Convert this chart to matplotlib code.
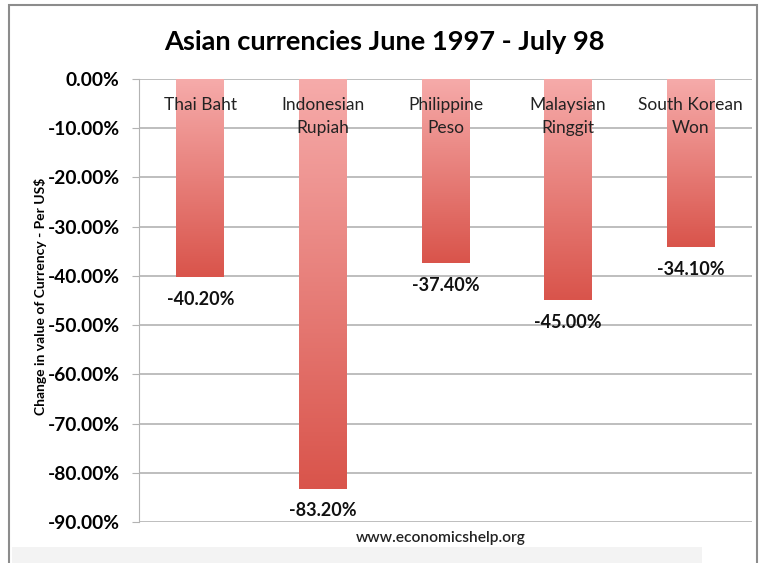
import matplotlib
matplotlib.use("Agg")
import matplotlib.pyplot as plt
import numpy as np
from matplotlib.colors import LinearSegmentedColormap
from matplotlib.patches import Rectangle

# data
currencies = ["Thai Baht", "Indonesian\nRupiah", "Philippine\nPeso",
              "Malaysian\nRinggit", "South Korean\nWon"]
changes = [-40.2, -83.2, -37.4, -45.0, -34.1]
y_ticks = [0, -10, -20, -30, -40, -50, -60, -70, -80, -90]

plt.rcParams["font.family"] = ["Lato", "DejaVu Sans"]

fig = plt.figure(figsize=(7.64, 5.63), dpi=100)
ax = fig.add_axes([139 / 764, 1 - 522 / 563, 613 / 764, 443 / 563])

# gradient from light pink at the top to red at the bottom
cmap = LinearSegmentedColormap.from_list("bar", ["#f6abaa", "#d9544b"])
grad = np.linspace(0, 1, 256).reshape(-1, 1)
width = 0.39
x = np.arange(len(currencies))
for xi, val in zip(x, changes):
    ax.imshow(grad, cmap=cmap, aspect="auto", zorder=2,
              extent=[xi - width / 2, xi + width / 2, val, 0])
    ax.annotate("%.2f%%" % val, (xi, val), xytext=(0, -16),
                textcoords="offset points", ha="center", va="center",
                fontsize=13, fontweight="bold", color="#111111")

for xi, name in zip(x, currencies):
    ax.text(xi, -3.7, name, ha="center", va="top", fontsize=12.5,
            color="#222222", linespacing=1.5, zorder=3)

ax.set_xlim(-0.5, 4.5)
ax.set_ylim(-90, 0)
ax.set_yticks(y_ticks)
ax.set_yticklabels(["%.2f%%" % t for t in y_ticks], fontsize=13.8,
                   fontweight="bold")
ax.set_xticks([])
ax.grid(axis="y", color="#b3b3b3", linewidth=1.2, zorder=0)
ax.set_axisbelow(True)
ax.tick_params(axis="y", length=5, color="#b3b3b3", pad=9)
for s in ["top", "right", "bottom"]:
    ax.spines[s].set_visible(False)
ax.spines["left"].set_color("#b3b3b3")

ax.set_ylabel("Change in value of Currency - Per US$", fontsize=10,
              fontweight="bold")
ax.yaxis.set_label_coords(-0.15, 0.51)

fig.text(384 / 764, 1 - 42 / 563, "Asian currencies June 1997 - July 98",
         ha="center", va="center", fontsize=19.6, fontweight="bold")
fig.text(441 / 764, 1 - 538 / 563, "www.economicshelp.org", ha="center",
         va="center", fontsize=11.2, fontweight="semibold", color="#222222")

# outer frame and the grey strip at the bottom
fig.patches.append(Rectangle((12 / 764, 0), 690 / 764, 16 / 563,
                             transform=fig.transFigure, facecolor="#f3f3f3",
                             edgecolor="none", zorder=0))
fig.patches.append(Rectangle((9 / 764, -0.05), 748 / 764, 1.05 - 5 / 563,
                             transform=fig.transFigure, facecolor="none",
                             edgecolor="#8c8c8c", linewidth=1.5))

fig.savefig("out.png", dpi=100)
